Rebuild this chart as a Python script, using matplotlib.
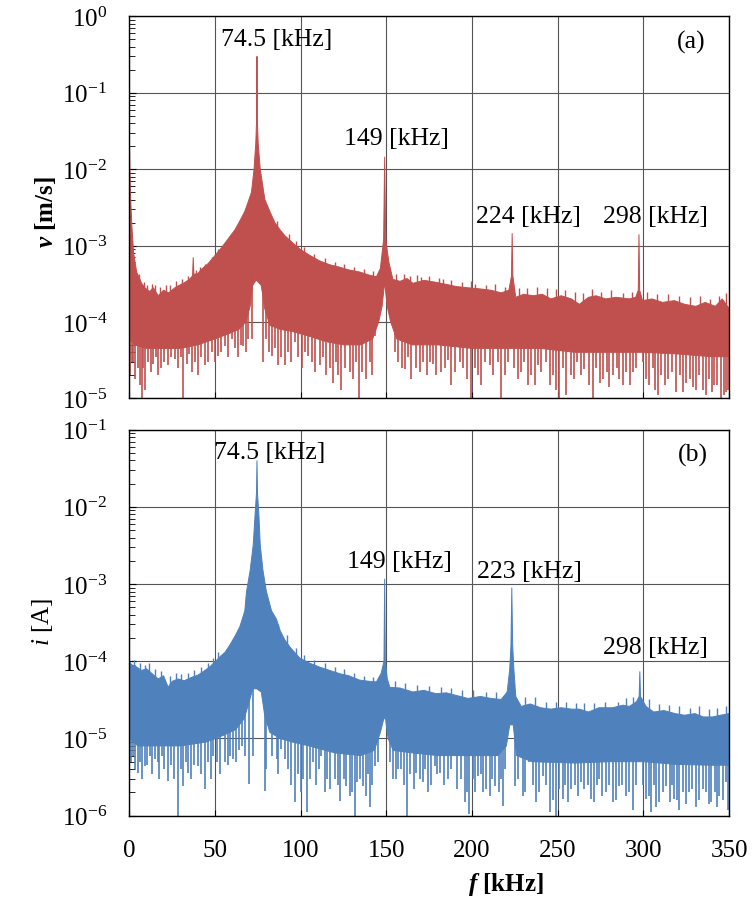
import numpy as np
import matplotlib
matplotlib.use('Agg')
import matplotlib.pyplot as plt
from matplotlib.ticker import LogLocator, FuncFormatter, MultipleLocator, NullFormatter

plt.rcParams['font.family'] = ['Liberation Serif', 'DejaVu Serif']
plt.rcParams['mathtext.fontset'] = 'custom'
plt.rcParams['mathtext.rm'] = 'Liberation Serif'
plt.rcParams['mathtext.it'] = 'Liberation Serif:italic'
plt.rcParams['mathtext.bf'] = 'Liberation Serif:bold'
plt.rcParams['mathtext.bfit'] = 'Liberation Serif:italic:bold'

# ---------------- panel (a): velocity spectrum ----------------
a_up_f = [0, 0.6, 1.5, 2.5, 4.3, 7.2, 9.1, 12, 14, 16.9, 20, 23, 26.6, 29, 32.5, 35, 36.9, 37.3, 37.7,
          40, 42.2, 46, 50, 54, 58, 61.6, 65, 67.4, 69.5, 71.3, 72.8, 73.8, 74.3, 74.5, 74.7, 75.2, 76.4,
          79.1, 82, 84.9, 88, 90.7, 95, 99.5, 105, 111, 117, 122.8, 128, 134.4, 140, 144.2, 146.5, 148.4,
          149.0, 149.6, 151.5, 153.8, 158, 162, 165.5, 172, 179, 185, 191, 197.6, 205, 211, 217, 221.5,
          223.0, 223.4, 223.8, 225.5, 230, 236, 241, 246, 252, 258, 262.6, 268, 272.4, 278, 284, 291.8,
          295.5, 297.0, 297.4, 297.8, 299.5, 305, 311.2, 318, 324, 330.6, 336, 342, 346, 350]
a_up_v = [3e-2, 5e-3, 1.8e-3, 8e-4, 4.5e-4, 3.2e-4, 2.8e-4, 2.5e-4, 2.8e-4, 2.2e-4, 2.6e-4, 2.4e-4,
          2.8e-4, 3.0e-4, 3.3e-4, 3.6e-4, 4.0e-4, 7.0e-4, 4.2e-4, 4.3e-4, 4.9e-4, 5.8e-4, 7.4e-4,
          9.5e-4, 1.25e-3, 1.6e-3, 2.2e-3, 2.8e-3, 3.8e-3, 5.0e-3, 1.0e-2, 2.2e-2, 4.5e-2, 0.3, 4.5e-2,
          2.2e-2, 1.0e-2, 4.0e-3, 2.8e-3, 2.0e-3, 1.6e-3, 1.35e-3, 1.1e-3, 9e-4, 7.5e-4, 6.3e-4, 5.6e-4,
          5.2e-4, 4.8e-4, 4.5e-4, 4.1e-4, 3.9e-4, 5e-4, 1.2e-3, 1.45e-2, 1.2e-3, 6e-4, 3.6e-4, 3.4e-4,
          3.7e-4, 3.2e-4, 3.5e-4, 3.3e-4, 3.1e-4, 2.9e-4, 2.8e-4, 2.7e-4, 2.6e-4, 2.4e-4, 2.6e-4, 4e-4,
          1.45e-3, 4e-4, 2.1e-4, 2.3e-4, 2.2e-4, 2.3e-4, 2.0e-4, 2.2e-4, 2.0e-4, 1.7e-4, 2.1e-4, 2.2e-4,
          2.0e-4, 2.1e-4, 2.0e-4, 2.1e-4, 2.6e-4, 1.4e-3, 2.6e-4, 1.9e-4, 2.0e-4, 1.8e-4, 1.9e-4, 1.7e-4,
          1.6e-4, 1.8e-4, 1.6e-4, 2.0e-4, 1.5e-4]
a_lo_f = [0, 3, 10, 20, 30, 40, 50, 58, 64, 68, 70.5, 72, 73.9, 74.0, 74.2, 74.3, 77, 79, 82, 88, 95,
          105, 115, 125, 135, 142, 145.5, 147.5, 148.8, 149.2, 150.5, 152.5, 156, 165, 180, 200, 220,
          240, 260, 280, 300, 320, 340, 350]
a_lo_v = [6e-5, 5e-5, 4.5e-5, 4.5e-5, 4.5e-5, 5e-5, 6e-5, 7e-5, 8e-5, 1.0e-4, 1.6e-4, 3e-4, 3.5e-4,
          4e-3, 4e-3, 3.5e-4, 3e-4, 1.5e-4, 9e-5, 8e-5, 7.5e-5, 6.5e-5, 5.5e-5, 5e-5, 5e-5, 6e-5, 1e-4,
          1.6e-4, 3e-4, 3e-4, 1.6e-4, 1e-4, 6e-5, 5e-5, 5e-5, 4.5e-5, 4.5e-5, 4.5e-5, 4e-5, 4e-5, 4e-5,
          3.8e-5, 3.5e-5, 3.5e-5]
# deep downward spikes
a_dip_f = [1.4, 3.3, 7.2, 9.1, 16.9, 22.7, 26.6, 31.5, 36.4, 40.2, 44.1, 51.9, 55.8, 59.7, 66.4, 71.3,
           78.1, 83.0, 86.8, 90.7, 96.6, 104.3, 111.1, 115.0, 118.9, 123.8, 128.6, 133.9, 138.3, 143.2,
           160.7, 164.6, 169.4, 175.2, 179.1, 182.0, 187.9, 192.7, 199.5, 205.4, 210.2, 217.0, 226.7,
           232.5, 238.3, 245.2, 251.0, 254.9, 259.7, 265.6, 270.4, 276.2, 282.0, 287.9, 293.7, 303.4,
           308.3, 314.1, 319.0, 324.8, 330.7, 336.5, 341.3, 345.2, 348.1]
a_dip_v = [3e-5, 1.8e-5, 1e-5, 1.3e-5, 2e-5, 2.7e-5, 3.3e-5, 1e-5, 2.2e-5, 2e-5, 2.7e-5, 3.6e-5, 4.9e-5,
           6e-5, 4.9e-5, 6e-5, 3e-5, 3.6e-5, 2.7e-5, 2.7e-5, 5.5e-5, 3.6e-5, 2.7e-5, 2e-5, 1.6e-5,
           1.3e-5, 2.2e-5, 1e-5, 1.8e-5, 6.6e-5, 2.4e-5, 1.8e-5, 2.2e-5, 3e-5, 2e-5, 2.2e-5, 1.5e-5,
           3e-5, 1e-5, 1.5e-5, 2.7e-5, 1e-5, 1.8e-5, 1.5e-5, 2.7e-5, 1.5e-5, 1e-5, 1.1e-5, 1.8e-5,
           2.4e-5, 1e-5, 1.8e-5, 2e-5, 1.5e-5, 2.2e-5, 1.5e-5, 1.1e-5, 1.8e-5, 1.2e-5, 1.6e-5, 1.3e-5,
           1.1e-5, 1.5e-5, 1e-5, 1.2e-5]
# shallower downward spikes
a_dip2_f = [0.5, 2.0, 5.0, 6.0, 8.0, 11, 12.5, 14, 15.5, 18.5, 20.5, 24.5, 28.5, 30, 33.5, 35, 38.5, 42,
            46, 48, 50, 53.5, 57.5, 61.5, 63.5, 65, 68, 69.5, 80, 81.5, 85, 88.5, 92.5, 94.5, 98.5, 100.5,
            102.5, 106.5, 108.5, 113, 117, 120.5, 122, 126, 130.5, 132, 136, 140.5, 141.5, 155, 157, 159,
            162.5, 167, 171.5, 173.5, 177, 184, 186, 190, 195, 197, 201.5, 203.5, 207.5, 212.5, 215,
            219.5, 221, 224.5, 228.5, 230.5, 234.5, 236.5, 240.5, 243, 247.5, 249, 253, 257.5, 261.5,
            263.5, 268, 272.5, 274.5, 278.5, 280, 284.5, 286, 290, 292, 295.5, 299.5, 301.5, 305.5, 306.8,
            310.5, 312.5, 316.5, 321.5, 323, 327, 328.8, 332.5, 334.5, 338.5, 340, 343, 346.8, 349.5]
a_dip2_v = [2e-5, 3e-5, 2.5e-5, 1.5e-5, 2.5e-5, 3e-5, 2.2e-5, 2.8e-5, 3.5e-5, 2.5e-5, 3e-5, 3.5e-5,
            2.5e-5, 3.5e-5, 2.8e-5, 3.8e-5, 3e-5, 3.5e-5, 3e-5, 4e-5, 3e-5, 4e-5, 3.5e-5, 4.5e-5, 3.5e-5,
            5e-5, 4e-5, 6e-5, 6e-5, 4e-5, 4.5e-5, 3.5e-5, 4e-5, 3e-5, 3.5e-5, 2.5e-5, 4e-5, 3e-5, 2.2e-5,
            3.5e-5, 2.5e-5, 3e-5, 2e-5, 2.5e-5, 1.8e-5, 3e-5, 2.2e-5, 3e-5, 2e-5, 4e-5, 3e-5, 2.5e-5,
            3.5e-5, 2.5e-5, 3e-5, 2e-5, 2.8e-5, 2.5e-5, 3.2e-5, 2.2e-5, 2.5e-5, 1.8e-5, 2.5e-5, 2e-5,
            3e-5, 2e-5, 3e-5, 2e-5, 3e-5, 2.5e-5, 2.2e-5, 3e-5, 2e-5, 1.5e-5, 2.2e-5, 3e-5, 2e-5, 1.3e-5,
            2.5e-5, 2e-5, 3e-5, 2e-5, 1.5e-5, 2.5e-5, 1.6e-5, 2.2e-5, 1.4e-5, 2.5e-5, 1.8e-5, 2.2e-5,
            1.5e-5, 2.5e-5, 3e-5, 1.8e-5, 2.5e-5, 1.3e-5, 2e-5, 1.5e-5, 2.2e-5, 2e-5, 1.2e-5, 1.8e-5,
            1.4e-5, 2e-5, 1.3e-5, 1.8e-5, 1.2e-5, 1.5e-5, 1.1e-5, 1.3e-5]
# small upward spikes on the top edge
a_top_f = [5.5, 8.5, 10.5, 13, 15, 18, 21.5, 24, 27.5, 30.5, 34, 39, 41, 44, 48, 52, 86, 93, 97, 102, 108,
           114, 120, 125, 131, 137, 142, 155.5, 160, 163.5, 168, 170, 175, 181, 183, 188, 194, 199.5,
           202, 208, 213.5, 219, 227.5, 232, 238, 243.5, 249, 254, 260, 265, 270, 275, 281, 288, 293.5,
           302, 308, 314.5, 321, 327, 333, 339, 344, 348]
a_top_v = [4.2e-4, 3.3e-4, 3e-4, 3.1e-4, 3e-4, 2.9e-4, 3e-4, 3e-4, 3.4e-4, 3.6e-4, 4e-4, 4.8e-4, 5.2e-4,
           5.8e-4, 7e-4, 9e-4, 2.1e-3, 1.4e-3, 1.15e-3, 9.5e-4, 7.8e-4, 6.8e-4, 6e-4, 5.7e-4, 5.3e-4,
           5e-4, 4.6e-4, 4.2e-4, 4.2e-4, 4e-4, 4.1e-4, 3.9e-4, 4e-4, 3.8e-4, 3.7e-4, 3.5e-4, 3.3e-4,
           3.4e-4, 3.1e-4, 3e-4, 3.1e-4, 2.9e-4, 2.8e-4, 2.8e-4, 2.9e-4, 2.8e-4, 2.7e-4, 2.6e-4, 2.5e-4,
           2.4e-4, 2.7e-4, 2.5e-4, 2.6e-4, 2.4e-4, 2.5e-4, 2.5e-4, 2.3e-4, 2.3e-4, 2.2e-4, 2.1e-4,
           2.2e-4, 2e-4, 2.2e-4, 2.4e-4]

# ---------------- panel (b): current spectrum ----------------
b_up_f = [0, 1.4, 4, 7.2, 10, 13, 16.9, 20, 22.7, 25, 28.6, 32, 36.4, 40, 44.1, 47, 50, 53, 55.8, 58.5,
          61.6, 64.5, 67.4, 68.4, 70.5, 72.3, 73.4, 74.2, 74.5, 74.8, 75.6, 76.4, 78, 80, 83, 85.9, 88,
          90.7, 94, 99.5, 105, 111, 117, 122.8, 128, 134.4, 140, 144.2, 147, 148.6, 149.0, 149.4, 150.5,
          152, 158, 165.5, 172, 179, 185, 191, 197.6, 205, 211, 217, 220.5, 222.0, 222.7, 223.2, 223.7,
          224.4, 225.5, 228.7, 234, 240, 246, 252, 258, 262.6, 268, 274, 282, 288, 291.8, 296, 297.5,
          297.9, 298.3, 301.5, 306, 312, 318.5, 324, 330, 335, 340.3, 345, 350]
b_up_v = [1e-4, 9e-5, 8.5e-5, 7.6e-5, 8e-5, 7e-5, 5.9e-5, 6.5e-5, 4.6e-5, 5.5e-5, 5.9e-5, 5.6e-5, 6.2e-5,
          6.6e-5, 7.6e-5, 8.5e-5, 9.8e-5, 1.15e-4, 1.3e-4, 1.6e-4, 2.1e-4, 2.8e-4, 4.5e-4, 8e-4, 1.5e-3,
          3.2e-3, 8e-3, 1.5e-2, 4e-2, 1.5e-2, 8e-3, 3.2e-3, 1.5e-3, 8e-4, 4.5e-4, 3.5e-4, 2.5e-4, 1.9e-4,
          1.5e-4, 1.1e-4, 9.5e-5, 8.4e-5, 7.6e-5, 6.9e-5, 6.5e-5, 5.7e-5, 5.5e-5, 5.4e-5, 7e-5, 1e-4,
          1.17e-3, 1e-4, 6e-5, 4.6e-5, 4.5e-5, 4e-5, 4.2e-5, 3.8e-5, 3.9e-5, 3.6e-5, 3.3e-5, 3.5e-5,
          3.3e-5, 3.2e-5, 4e-5, 8e-5, 1.6e-4, 9e-4, 1.6e-4, 8e-5, 3.5e-5, 2.6e-5, 2.8e-5, 2.5e-5, 2.4e-5,
          2.5e-5, 2.4e-5, 2.4e-5, 2.2e-5, 2.5e-5, 2.5e-5, 2.7e-5, 2.6e-5, 3e-5, 3.5e-5, 7.4e-5, 3.5e-5,
          2.6e-5, 2.2e-5, 2.3e-5, 2.1e-5, 2.0e-5, 2.1e-5, 1.9e-5, 1.9e-5, 2.0e-5, 2.1e-5]
b_lo_f = [0, 5, 15, 30, 45, 55, 62, 67, 70, 72, 73.9, 74.0, 74.2, 74.3, 77, 79, 82, 88, 95, 105, 120,
          135, 143, 146.5, 148.5, 149.5, 151, 154, 165, 180, 200, 215, 220, 222, 224, 226, 235, 260, 280,
          300, 320, 340, 350]
b_lo_v = [1e-5, 8e-6, 8e-6, 8e-6, 9e-6, 1.1e-5, 1.3e-5, 1.8e-5, 3e-5, 4.4e-5, 4.4e-5, 6.5e-4, 6.5e-4,
          4.4e-5, 4e-5, 2e-5, 1.2e-5, 1e-5, 9e-6, 8e-6, 6.5e-6, 6e-6, 7e-6, 1.2e-5, 1.8e-5, 1.8e-5, 1e-5,
          7e-6, 6.5e-6, 6e-6, 6e-6, 6e-6, 8e-6, 1.5e-5, 1.5e-5, 6e-6, 5e-6, 4.8e-6, 5e-6, 5e-6, 4.6e-6,
          4.5e-6, 4.5e-6]
b_dip_f = [2.3, 5.2, 9.1, 12.0, 14.9, 18.8, 22.7, 28.6, 31.5, 34.4, 40.2, 44.1, 48.9, 55.8, 60.6, 65.5,
           69.7, 72.3, 79.1, 81.0, 85.9, 88.8, 90.7, 96.6, 101.4, 103.4, 107.2, 112.1, 117.0, 119.9,
           123.2, 126.7, 128.6, 131.5, 132.9, 136.4, 140.3, 143.2, 153.8, 156.8, 162.2, 167.5, 171.3,
           174.2, 178.1, 181.1, 185.9, 189.8, 195.6, 198.5, 203.4, 206.3, 210.2, 213.1, 218.0, 224.8,
           229.6, 233.5, 237.4, 241.3, 245.2, 249.1, 252.9, 257.8, 263.6, 265.6, 269.4, 274.3, 278.2,
           282.0, 285.9, 289.8, 293.7, 301.5, 304.4, 309.3, 313.1, 318.0, 320.9, 326.7, 330.6, 334.5,
           339.3, 344.2, 348.1]
b_dip_v = [6e-6, 3.6e-6, 4.4e-6, 6e-6, 5.4e-6, 6e-6, 2.8e-6, 1e-6, 2.4e-6, 3.6e-6, 4.4e-6, 2.2e-6,
           6e-6, 4.9e-6, 5.4e-6, 8.1e-6, 2.6e-6, 6e-6, 2.1e-6, 1.5e-5, 5.4e-6, 7.3e-6, 5.4e-6, 1.5e-6,
           3e-6, 1.1e-6, 4.9e-6, 6e-6, 2.2e-6, 3e-6, 1.55e-6, 2.4e-6, 1.8e-6, 1e-6, 2.7e-6, 2.4e-6,
           1.3e-6, 4.4e-6, 3e-6, 4e-6, 1e-6, 3.6e-6, 2.7e-6, 2e-6, 4.4e-6, 3.6e-6, 3e-6, 6.6e-6, 1.5e-6,
           1.05e-6, 3.3e-6, 2e-6, 1.8e-6, 2.4e-6, 1.35e-6, 2.4e-6, 1.8e-6, 4.9e-6, 1.5e-6, 3.3e-6, 1.1e-6,
           1e-6, 1.65e-6, 2.2e-6, 2.7e-6, 2.2e-6, 1.65e-6, 3e-6, 2e-6, 1.5e-6, 2.4e-6, 1.8e-6, 1.2e-6,
           1.65e-6, 1.1e-6, 1.5e-6, 2.4e-6, 1.65e-6, 1.2e-6, 2e-6, 1.3e-6, 2.2e-6, 1.5e-6, 1.8e-6, 2.7e-6]
b_dip2_f = [0.8, 3.5, 6.5, 7.5, 10.5, 13.5, 16.5, 17.5, 20.5, 24.5, 26, 30, 33, 36, 38, 42, 46, 47.5, 51,
            53, 57.5, 59, 62.5, 64, 67.5, 80, 83.5, 87, 92.5, 94.5, 98.5, 100, 105.5, 109, 110.5, 114,
            115.5, 121.5, 125, 130, 134.5, 138, 139.5, 141.8, 145, 152, 155.5, 158.5, 160.5, 164, 166,
            169.5, 172.8, 176, 179.5, 183.5, 187.5, 191.5, 193.5, 197, 200.5, 202, 205, 208, 211.8, 215.5,
            216.8, 219.5, 227, 231, 235.5, 239, 243, 247, 250.5, 254.5, 256, 260, 262, 267.5, 271, 272.8,
            276, 280, 284, 287.5, 291.5, 295.5, 299.5, 303, 306, 307.5, 311.5, 315.5, 316.8, 319.5, 323,
            325, 328.5, 332.5, 336.5, 338, 341.5, 343, 346.5, 349.5]
b_dip2_v = [5e-6, 4e-6, 5e-6, 3e-6, 4.5e-6, 3.5e-6, 5e-6, 3e-6, 4e-6, 4.5e-6, 3e-6, 4e-6, 5e-6, 3e-6,
            4.5e-6, 3.5e-6, 5e-6, 3e-6, 5e-6, 3.5e-6, 4.5e-6, 6e-6, 5e-6, 7e-6, 6e-6, 4e-6, 6e-6, 3.5e-6,
            4e-6, 2.5e-6, 3.5e-6, 2e-6, 3e-6, 2.5e-6, 4e-6, 2e-6, 3e-6, 2.5e-6, 3e-6, 2e-6, 3e-6, 1.8e-6,
            3.5e-6, 2.5e-6, 5e-6, 5e-6, 3e-6, 4e-6, 2.5e-6, 3.5e-6, 2.2e-6, 3e-6, 4e-6, 2.5e-6, 3.5e-6,
            2.5e-6, 4e-6, 2.2e-6, 3e-6, 2e-6, 3e-6, 2e-6, 3.5e-6, 2.2e-6, 3e-6, 2e-6, 3e-6, 4e-6, 3e-6,
            2e-6, 2.5e-6, 2e-6, 2.5e-6, 1.6e-6, 2.2e-6, 2.5e-6, 1.5e-6, 2.5e-6, 1.8e-6, 2.5e-6, 1.5e-6,
            2.5e-6, 1.8e-6, 2.5e-6, 1.6e-6, 2.5e-6, 2e-6, 2.5e-6, 2.5e-6, 1.8e-6, 2.5e-6, 1.3e-6, 2e-6,
            1.5e-6, 2.5e-6, 1.6e-6, 2e-6, 1.4e-6, 2.2e-6, 1.6e-6, 2e-6, 1.4e-6, 2e-6, 1.3e-6, 1.6e-6,
            1.2e-6]
b_top_f = [3, 6, 9, 11.5, 15, 18.5, 24, 27, 30, 34, 38, 42, 46, 49, 52, 87, 92, 97, 102, 108, 114, 120,
           125.5, 131, 137, 142, 155, 161, 168, 175, 182, 188, 194, 200.5, 208, 214, 231, 237, 243, 249,
           255, 260.5, 265.5, 271, 277.5, 285, 290, 294, 303.5, 309, 315, 321, 327, 332.5, 338, 343, 348]
b_top_v = [1.05e-4, 9.5e-5, 9e-5, 9.5e-5, 8e-5, 7.5e-5, 6.5e-5, 7e-5, 6.8e-5, 7e-5, 7.8e-5, 8.5e-5,
           9.5e-5, 1.1e-4, 1.3e-4, 3e-4, 2.2e-4, 1.5e-4, 1.2e-4, 1.05e-4, 9.5e-5, 8.5e-5, 8e-5, 7e-5,
           6.5e-5, 6.3e-5, 5.5e-5, 5.2e-5, 5e-5, 4.8e-5, 4.6e-5, 4.5e-5, 4.2e-5, 4.3e-5, 4e-5, 4e-5,
           3.4e-5, 3.4e-5, 3e-5, 3e-5, 3e-5, 2.9e-5, 2.9e-5, 2.9e-5, 3e-5, 3e-5, 3.3e-5, 3.4e-5, 3.2e-5,
           2.8e-5, 2.7e-5, 2.6e-5, 2.5e-5, 2.6e-5, 2.4e-5, 2.5e-5, 2.6e-5]

x_ticks = [0, 50, 100, 150, 200, 250, 300, 350]
a_peak_labels = ['74.5 [kHz]', '149 [kHz]', '224 [kHz]', '298 [kHz]']
b_peak_labels = ['74.5 [kHz]', '149 [kHz]', '223 [kHz]', '298 [kHz]']

RED = '#C0504D'
BLUE = '#4F81BD'

fig = plt.figure(figsize=(7.54, 9.03), dpi=100)
ax_a = fig.add_axes([0.1715, 0.5578, 0.7955, 0.4230])
ax_b = fig.add_axes([0.1715, 0.0956, 0.7955, 0.4275])


def sci(v, pos):
    e = int(round(np.log10(v)))
    return r'$\mathregular{10^{%d}}$' % e


def logat(f, nodes_f, nodes_v):
    return 10 ** np.interp(f, nodes_f, np.log10(nodes_v))


def draw(ax, up_f, up_v, lo_f, lo_v, dips, tops, color, ylim):
    up_f, up_v, lo_f, lo_v = map(np.asarray, (up_f, up_v, lo_f, lo_v))
    ax.set_yscale('log')
    ax.set_xlim(0, 350)
    ax.set_ylim(*ylim)
    xs = np.r_[up_f, lo_f[::-1]]
    ys = np.r_[up_v, lo_v[::-1]]
    ax.fill(xs, ys, facecolor=color, edgecolor=color, lw=0.7, zorder=2)
    # downward spikes attached to the bottom edge of the dense band
    for df, dv in dips:
        df = np.asarray(df)
        ax.vlines(df, dv, logat(df, lo_f, lo_v) * 1.3, color=color, lw=1.2, zorder=2)
    # small upward spikes attached to the top edge
    tf, tv = tops
    tf = np.asarray(tf)
    ax.vlines(tf, logat(tf, up_f, up_v) * 0.8, tv, color=color, lw=1.0, zorder=2)
    ax.set_axisbelow(True)
    ax.grid(True, which='major', color='#555555', lw=0.8)
    ax.xaxis.set_major_locator(MultipleLocator(50))
    ax.yaxis.set_major_locator(LogLocator(base=10, numticks=20))
    ax.yaxis.set_minor_locator(LogLocator(base=10, subs=np.arange(2, 10), numticks=20))
    ax.yaxis.set_major_formatter(FuncFormatter(sci))
    ax.yaxis.set_minor_formatter(NullFormatter())
    ax.tick_params(axis='both', which='both', direction='in', top=False, right=False)
    ax.tick_params(axis='y', which='major', length=5, labelsize=18, pad=16)
    ax.tick_params(axis='y', which='minor', length=4)
    ax.tick_params(axis='x', which='major', length=4, labelsize=18, pad=17)
    for s in ax.spines.values():
        s.set_linewidth(1.0)
        s.set_color('black')


draw(ax_a, a_up_f, a_up_v, a_lo_f, a_lo_v,
     [(a_dip_f, a_dip_v), (a_dip2_f, a_dip2_v)], (a_top_f, a_top_v), RED, (1e-5, 1.0))
draw(ax_b, b_up_f, b_up_v, b_lo_f, b_lo_v,
     [(b_dip_f, b_dip_v), (b_dip2_f, b_dip2_v)], (b_top_f, b_top_v), BLUE, (1e-6, 1e-1))

ax_a.set_xticks(x_ticks)
ax_a.tick_params(axis='x', labelbottom=False)
ax_b.set_xticks(x_ticks)

fs = 18.5
a_pos = [(0.246, 0.941), (0.4456, 0.681), (0.6655, 0.476), (0.8766, 0.477)]
for (px, py), t in zip(a_pos, a_peak_labels):
    ax_a.text(px, py, t, transform=ax_a.transAxes, ha='center', va='center', fontsize=fs, zorder=5)
ax_a.text(0.9375, 0.935, '(a)', transform=ax_a.transAxes, ha='center', va='center', fontsize=fs)

b_pos = [(0.2346, 0.942), (0.4497, 0.6585), (0.6665, 0.6347), (0.8766, 0.438)]
for (px, py), t in zip(b_pos, b_peak_labels):
    ax_b.text(px, py, t, transform=ax_b.transAxes, ha='center', va='center', fontsize=fs, zorder=5)
ax_b.text(0.9397, 0.937, '(b)', transform=ax_b.transAxes, ha='center', va='center', fontsize=fs)

fig.text(46 / 754, 1 - 212 / 903, r'$\bfit{v}$ [m/s]', rotation=90, ha='center', va='center',
         fontsize=18, fontweight='bold')
fig.text(42.5 / 754, 1 - 622 / 903, r'$\mathit{i}$ [A]', rotation=90, ha='center', va='center',
         fontsize=18)
fig.text(506 / 754, 1 - 885 / 903, r'$\bfit{f}$ [kHz]', ha='center', va='center',
         fontsize=18, fontweight='bold')

fig.savefig('out.png', dpi=100)
